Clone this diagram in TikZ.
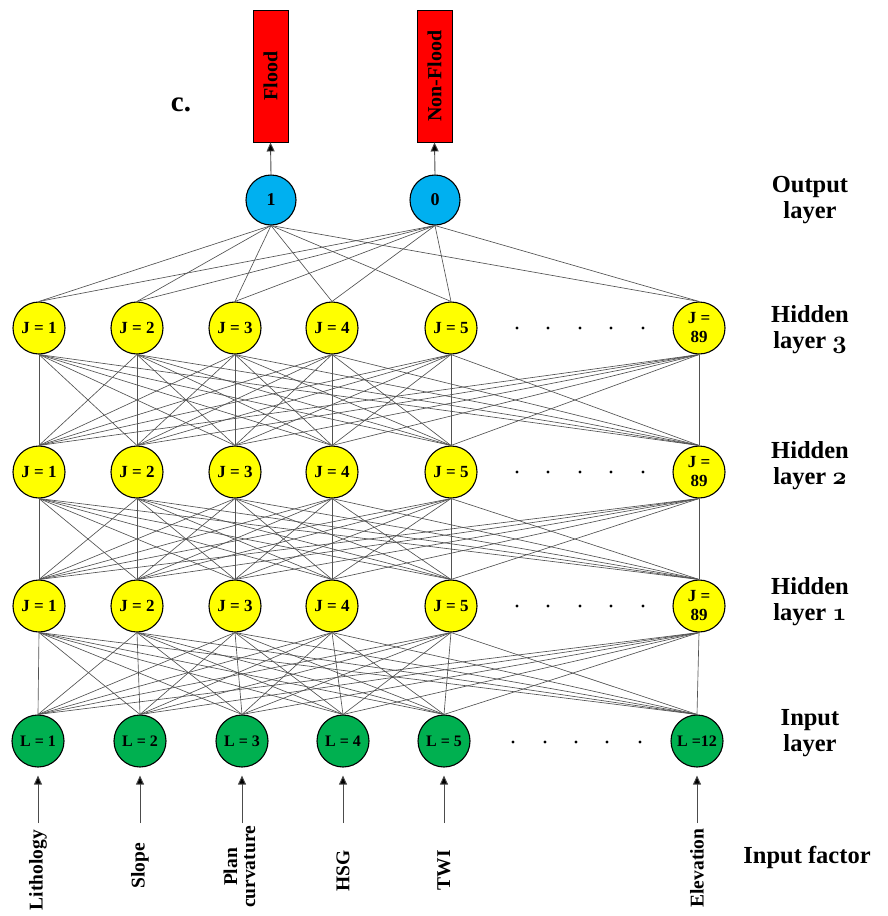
\documentclass[tikz,border=0pt]{standalone}
\usepackage{fontspec}
\setmainfont{Liberation Serif}
\usetikzlibrary{arrows.meta}
\definecolor{nyellow}{HTML}{FFFF00}
\definecolor{ngreen}{HTML}{00B050}
\definecolor{nblue}{HTML}{00B0F0}
\definecolor{nred}{HTML}{FF0000}
\newcommand{\osn}[1]{{\usefont{OML}{cmm}{b}{it}#1}}
\begin{document}
\begin{tikzpicture}[x=1pt,y=-1pt,
  neuron/.style={circle,draw=black,line width=1.1pt,minimum size=52pt,inner sep=0pt,
    align=center,font=\bfseries\fontsize{17}{19}\selectfont},
  hid/.style={neuron,fill=nyellow},
  inp/.style={neuron,fill=ngreen,font=\bfseries\fontsize{16}{18}\selectfont},
  outn/.style={neuron,fill=nblue,minimum size=50pt,font=\bfseries\fontsize{18}{19}\selectfont},
  outbox/.style={rectangle,draw=black,line width=0.9pt,fill=nred,minimum width=35pt,
    minimum height=132pt,inner sep=0pt,font=\bfseries\fontsize{20}{22}\selectfont},
  conn/.style={draw=black!68,line width=0.65pt},
  arr/.style={draw=black!70,line width=0.9pt,-{Triangle[length=9pt,width=8pt,fill=black]}},
  layerlab/.style={align=center,font=\bfseries\fontsize{24.5}{26}\selectfont},
  factor/.style={inner sep=0pt,font=\bfseries\fontsize{19.5}{21}\selectfont},
  dot/.style={fill=black}
]
\useasboundingbox (0,0) rectangle (888,916);

% output
\node[outn] (o1) at (271,200) {1};
\node[outn] (o0) at (435,200) {0};
\node[outbox] (bf) at (270.5,76) {\rotatebox{90}{Flood}};
\node[outbox] (bn) at (434.5,76) {\rotatebox{90}{Non-Flood}};
\node[font=\bfseries\fontsize{29}{30}\selectfont] (c) at (181,105) {c.};
\draw[arr] (o1.north) -- (bf.south);
\draw[arr] (o0.north) -- (bn.south);

% hidden layers
\foreach \x [count=\i] in {39,137,235,332,451} {
  \node[hid] (h3-\i) at (\x,328) {J = \i};
  \node[hid] (h2-\i) at (\x,472) {J = \i};
  \node[hid] (h1-\i) at (\x,606) {J = \i};
}
\node[hid] (h3-6) at (699,328) {J =\\89};
\node[hid] (h2-6) at (699,472) {J =\\89};
\node[hid] (h1-6) at (699,606) {J =\\89};

% input layer
\foreach \x [count=\i] in {38,140,242,343,444} {
  \node[inp] (in-\i) at (\x,741) {L = \i};
}
\node[inp] (in-6) at (697,741) {L =12};

% dots
\foreach \y in {328,472,606} {
  \foreach \x in {517,548,580,611,643} \fill[dot] (\x,\y) circle (1.7);
}
\foreach \x in {513,545,576,607,640} \fill[dot] (\x,742) circle (1.7);

% connections
\foreach \j in {1,...,6} {
  \draw[conn] (o1.south) -- (h3-\j.north);
  \draw[conn] (o0.south) -- (h3-\j.north);
  \foreach \i in {1,...,6} {
    \draw[conn] (h3-\i.south) -- (h2-\j.north);
    \draw[conn] (h2-\i.south) -- (h1-\j.north);
    \draw[conn] (h1-\i.south) -- (in-\j.north);
  }
}

% input factors
\foreach \x [count=\i] in {38,140,242,343,444,697} {
  \coordinate (t-\i) at (\x,823);
  \draw[arr,shorten >=8pt] (t-\i) -- (in-\i.south);
}
\node[factor] (f1) at (38,870) {\rotatebox{90}{Lithology}};
\node[factor] (f2) at (140,866) {\rotatebox{90}{Slope}};
\node[factor] (f3) at (242,867) {\rotatebox{90}{\begin{tabular}{@{}c@{}}Plan\\[-3pt]curvature\end{tabular}}};
\node[factor] (f4) at (343,871) {\rotatebox{90}{HSG}};
\node[factor] (f5) at (444,870) {\rotatebox{90}{TWI}};
\node[factor] (f6) at (697,868) {\rotatebox{90}{Elevation}};

% layer labels
\node[layerlab] (l0) at (810,200) {Output\\layer};
\node[layerlab] (l3) at (810,330) {Hidden\\layer \osn{3}};
\node[layerlab] (l2) at (810,466) {Hidden\\layer \osn{2}};
\node[layerlab] (l1) at (810,602) {Hidden\\layer \osn{1}};
\node[layerlab] (li) at (810,733) {Input\\layer};
\node[layerlab] (lf) at (807,857) {Input factor};
\end{tikzpicture}
\end{document}
